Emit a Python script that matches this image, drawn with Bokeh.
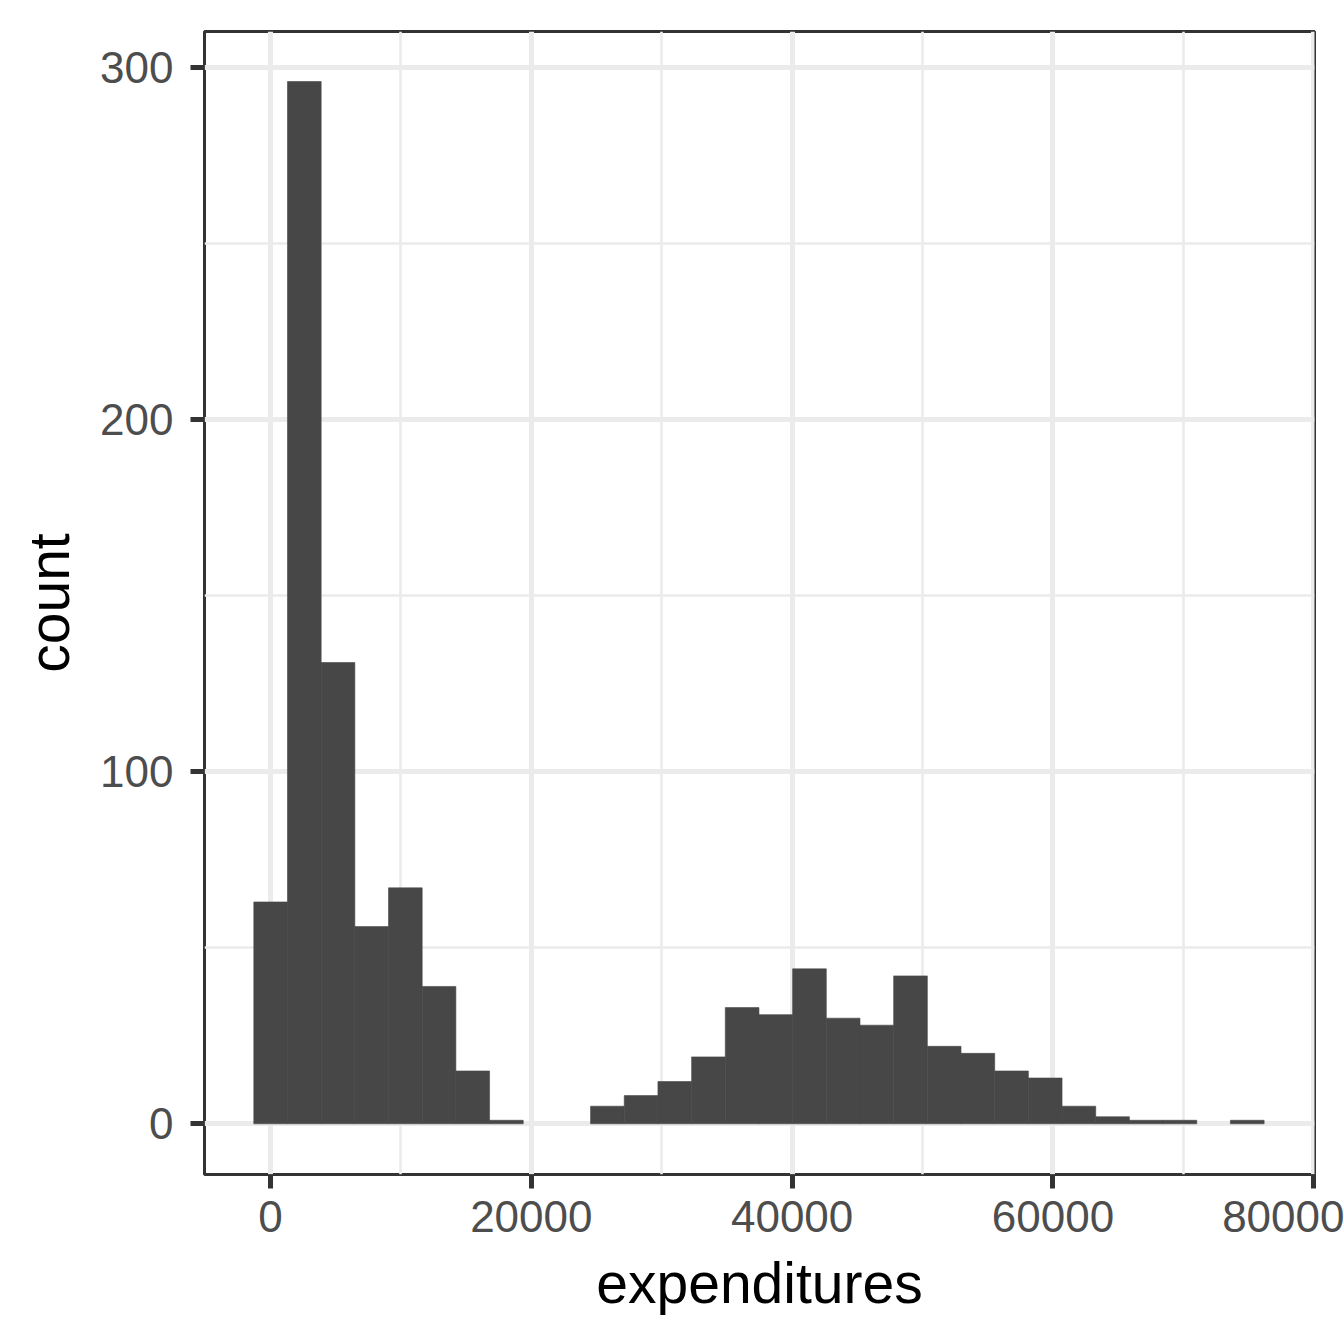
import numpy as np
from bokeh.plotting import figure
from bokeh.models import FixedTicker, Range1d, BasicTickFormatter, ColumnDataSource
from bokeh.embed import file_html
from bokeh.resources import INLINE

# ---- data (30 bins) ----
counts = [63, 296, 131, 56, 67, 39, 15, 1, 0, 0,
          5, 8, 12, 19, 33, 31, 44, 30, 28, 42,
          22, 20, 15, 13, 5, 2, 1, 1, 0, 1]
bin_start = -1280.0
bin_width = 2582.4
x_ticks = [0, 20000, 40000, 60000, 80000]
x_minor_ticks = [10000, 30000, 50000, 70000]
y_ticks = [0, 100, 200, 300]
y_minor_ticks = [50, 150, 250]
x_title = "expenditures"
y_title = "count"

counts_arr = np.array(counts)
edges = bin_start + bin_width * np.arange(len(counts) + 1)
keep = counts_arr > 0
src = ColumnDataSource(dict(left=edges[:-1][keep], right=edges[1:][keep],
                            top=counts_arr[keep], bottom=np.zeros(keep.sum())))

p = figure(width=1344, height=1344, output_backend="svg", toolbar_location=None,
           x_range=Range1d(-5061, 80056), y_range=Range1d(-14.4, 310.2),
           min_border_left=204, min_border_right=30, min_border_top=31,
           min_border_bottom=170)

p.quad(left="left", right="right", top="top", bottom="bottom", source=src,
       fill_color="#474747", line_color="#474747", line_width=0.6)

p.background_fill_color = "white"
p.border_fill_color = "white"
p.outline_line_color = "#333333"
p.outline_line_width = 3

for ax, ticks, minor in ((p.xaxis[0], x_ticks, x_minor_ticks), (p.yaxis[0], y_ticks, y_minor_ticks)):
    ax.ticker = FixedTicker(ticks=ticks, minor_ticks=minor)
    ax.formatter = BasicTickFormatter(use_scientific=False)
    ax.axis_line_color = None
    ax.major_tick_line_color = "#333333"
    ax.major_tick_line_width = 5
    ax.major_tick_out = 14
    ax.major_tick_in = 0
    ax.minor_tick_out = 0
    ax.minor_tick_in = 0
    ax.major_label_text_font = "Liberation Sans"
    ax.major_label_text_font_size = "44px"
    ax.major_label_text_color = "#4D4D4D"
    ax.axis_label_text_font = "Liberation Sans"
    ax.axis_label_text_font_size = "57px"
    ax.axis_label_text_font_style = "normal"
    ax.axis_label_text_color = "black"

p.xaxis.axis_label = x_title
p.yaxis.axis_label = y_title
p.xaxis.major_label_standoff = 12
p.yaxis.major_label_standoff = 17
p.xaxis.axis_label_standoff = 16
p.yaxis.axis_label_standoff = 16

for g in (p.xgrid[0], p.ygrid[0]):
    g.grid_line_color = "#EBEBEB"
    g.grid_line_width = 5
    g.minor_grid_line_color = "#EBEBEB"
    g.minor_grid_line_width = 2.6
p.xgrid[0].ticker = p.xaxis[0].ticker
p.ygrid[0].ticker = p.yaxis[0].ticker

open("out.html", "w").write(file_html(p, INLINE))
